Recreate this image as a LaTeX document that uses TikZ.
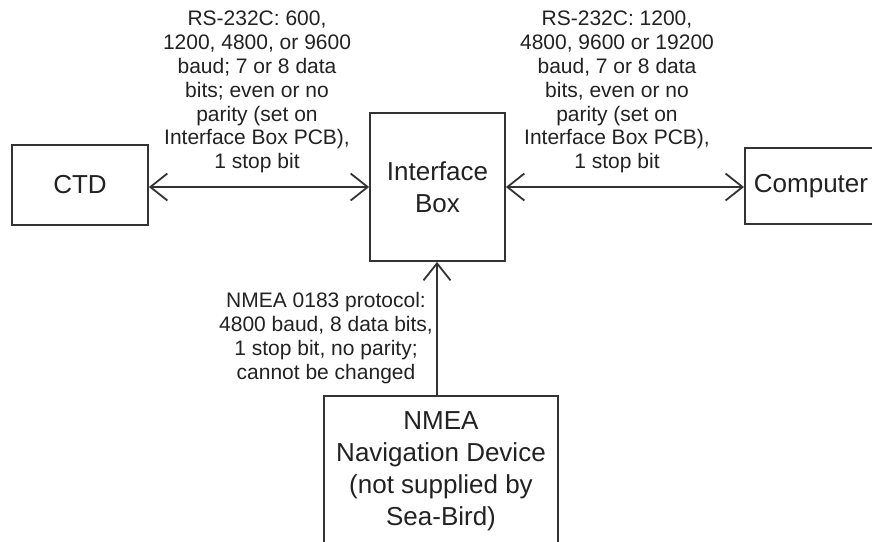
\documentclass[tikz,border=0pt]{standalone}
\usepackage{fontspec}
\setmainfont{Liberation Sans}
\usetikzlibrary{arrows.meta}
\definecolor{ink}{HTML}{222222}
\definecolor{wire}{HTML}{333333}
\tikzset{
  box/.style={draw=wire, line width=1.8pt, rectangle, inner sep=0pt, text=ink,
              align=center, font=\fontsize{26}{32}\selectfont},
  lbl/.style={inner sep=0pt, text=ink, align=center, font=\fontsize{21}{23.9}\selectfont},
  link/.style={draw=wire, line width=1.8pt, {Straight Barb[length=17pt,width=27pt,line width=1.8pt]}-{Straight Barb[length=17pt,width=27pt,line width=1.8pt]}},
  uplink/.style={draw=wire, line width=1.8pt, -{Straight Barb[length=17pt,width=27pt,line width=1.8pt]}}
}
\begin{document}
\begin{tikzpicture}[x=1pt,y=-1pt]
\useasboundingbox (0,0) rectangle (872,541);
\fill[white] (0,0) rectangle (872,541);
\node[box, minimum width=136pt, minimum height=80pt] (ctd) at (80,185) {CTD};
\node[box, minimum width=135pt, minimum height=148pt] (ib) at (437.5,187) {Interface\\Box};
\node[box, text width=130pt, align=left, inner xsep=9pt, minimum height=76pt, anchor=west] (pc) at (744,186) {Computer};
\node[box, minimum width=234pt, minimum height=150pt] (nmea) at (441,471) {NMEA\\Navigation Device\\(not supplied by\\Sea-Bird)};
\node[lbl] (l1) at (257,92) {RS-232C: 600,\\1200, 4800, or 9600\\baud; 7 or 8 data\\bits; even or no\\parity (set on\\Interface Box PCB),\\1 stop bit};
\node[lbl] (l2) at (617,92) {RS-232C: 1200,\\4800, 9600 or 19200\\baud, 7 or 8 data\\bits, even or no\\parity (set on\\Interface Box PCB),\\1 stop bit};
\node[lbl] (l3) at (326,338) {NMEA 0183 protocol:\\4800 baud, 8 data bits,\\1 stop bit, no parity;\\cannot be changed};
\draw[link] (ctd.east |- 0,187) -- (ib.west |- 0,187);
\draw[link] (ib.east |- 0,187) -- (pc.west |- 0,187);
\draw[uplink] (nmea.north -| 437,0) -- (ib.south -| 437,0);
\end{tikzpicture}
\end{document}
